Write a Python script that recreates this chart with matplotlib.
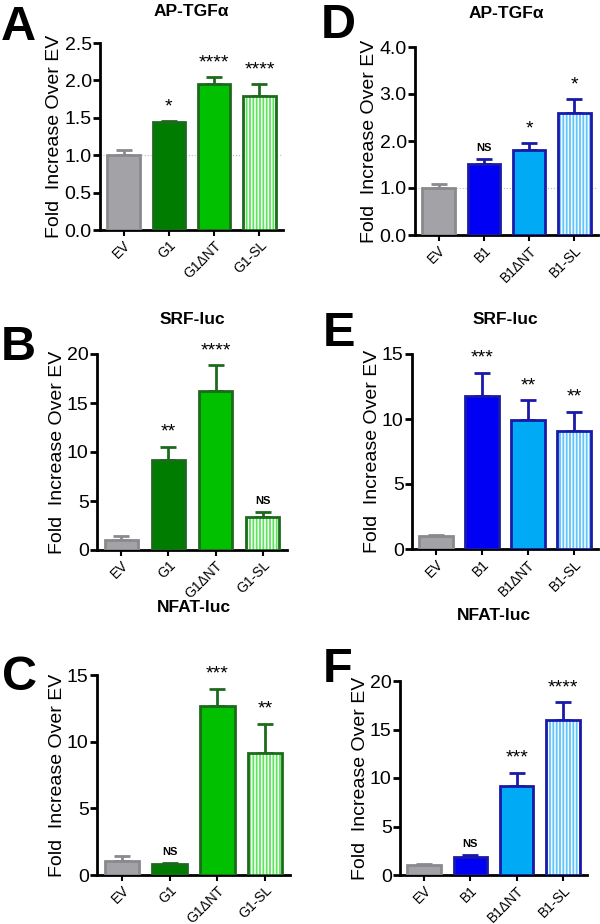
import numpy as np
import matplotlib
matplotlib.use("Agg")
from matplotlib import pyplot as plt

plt.rcParams['font.family'] = ['Liberation Sans', 'DejaVu Sans']
plt.rcParams['hatch.linewidth'] = 1.1

# dados
cats_g = ['EV', 'G1', 'G1\u0394NT', 'G1-SL']
cats_b = ['EV', 'B1', 'B1\u0394NT', 'B1-SL']

a_val = [1.00, 1.44, 1.95, 1.79]
a_err = [0.07, 0.02, 0.09, 0.16]
a_sig = ['', '*', '****', '****']

b_val = [1.0, 9.2, 16.25, 3.4]
b_err = [0.45, 1.35, 2.6, 0.45]
b_sig = ['', '**', '****', 'NS']

c_val = [1.04, 0.79, 12.65, 9.17]
c_err = [0.42, 0.08, 1.33, 2.16]
c_sig = ['', 'NS', '***', '**']

d_val = [1.01, 1.51, 1.80, 2.60]
d_err = [0.07, 0.11, 0.15, 0.29]
d_sig = ['', 'NS', '*', '*']

e_val = [1.02, 11.77, 9.9, 9.11]
e_err = [0.08, 1.8, 1.57, 1.46]
e_sig = ['', '***', '**', '**']

f_val = [1.02, 1.87, 9.2, 16.01]
f_err = [0.10, 0.21, 1.36, 1.78]
f_sig = ['', 'NS', '***', '****']

gray = ('#a3a3a7', '#8a8a8e')
greens = [gray, ('#007d00', '#1d6a1d'), ('#00c000', '#1d6a1d'), ('#5fe35f', '#1d6a1d')]
blues = [gray, ('#0000f5', '#1a1aa8'), ('#00aaf5', '#1a1aa8'), ('#5cc4ff', '#1a1aa8')]

W, H = 600, 924


def painel(rect, letter, title, cats, vals, errs, sigs, cols, ymax, yticks, fmt, dotted, title_y, letter_xy):
    l, r, t, b = rect
    ax = fig.add_axes([l / W, 1 - b / H, (r - l) / W, (b - t) / H])
    x = np.arange(len(cats))
    for i in range(len(cats)):
        fc, ec = cols[i]
        ax.errorbar(x[i], vals[i], yerr=[[0], [errs[i]]], fmt='none', ecolor=ec,
                    elinewidth=2, capsize=6, capthick=2, zorder=2)
        if i == 3:
            ax.bar(x[i], vals[i], 0.72, color=fc, edgecolor='none', zorder=3)
            ax.bar(x[i], vals[i], 0.72, color='none', edgecolor='white', hatch='|||||', linewidth=0, zorder=4)
            ax.bar(x[i], vals[i], 0.72, color='none', edgecolor=ec, linewidth=2, zorder=5)
        else:
            ax.bar(x[i], vals[i], 0.72, color=fc, edgecolor=ec, linewidth=2, zorder=3)
        if sigs[i]:
            yy = vals[i] + errs[i] + ymax * 0.03
            if sigs[i] == 'NS':
                ax.text(x[i], yy, 'NS', ha='center', va='bottom', fontsize=8, fontweight='bold')
            else:
                ax.text(x[i], yy, sigs[i], ha='center', va='bottom', fontsize=14)
    if dotted:
        ax.axhline(1.0, color='#bbbbbb', lw=0.8, ls=':', zorder=1)
    ax.set_xlim(-0.52, 3.52)
    ax.set_ylim(0, ymax)
    ax.set_yticks(yticks)
    ax.set_yticklabels([fmt.format(v) for v in yticks], fontsize=14)
    ax.set_xticks(x)
    ax.set_xticklabels(cats, rotation=45, ha='right', rotation_mode='anchor', fontsize=10)
    ax.spines['top'].set_visible(False)
    ax.spines['right'].set_visible(False)
    ax.spines['left'].set_linewidth(2)
    ax.spines['bottom'].set_linewidth(2)
    ax.tick_params(axis='y', width=2, length=5, pad=1)
    ax.tick_params(axis='x', width=1.5, length=4, pad=2)
    ax.set_ylabel('Fold  Increase Over EV', fontsize=14, labelpad=1)
    fig.text((l + r) / 2 / W, 1 - title_y / H, title, ha='center', va='center',
             fontsize=12.5, fontweight='bold')
    fig.text(letter_xy[0] / W, 1 - letter_xy[1] / H, letter, ha='left', va='center',
             fontsize=35, fontweight='bold')
    return ax


fig = plt.figure(figsize=(W / 100, H / 100), dpi=100)

painel((100, 283, 43, 230), 'A', 'AP-TGF\u03b1', cats_g, a_val, a_err, a_sig, greens,
       2.5, [0, 0.5, 1.0, 1.5, 2.0, 2.5], '{:.1f}', True, 11, (1, 27))
painel((97, 287, 354, 550), 'B', 'SRF-luc', cats_g, b_val, b_err, b_sig, greens,
       20, [0, 5, 10, 15, 20], '{:.0f}', False, 320, (1, 347))
painel((97, 290, 675, 875), 'C', 'NFAT-luc', cats_g, c_val, c_err, c_sig, greens,
       15, [0, 5, 10, 15], '{:.0f}', False, 608, (2, 677))
painel((415, 598, 47, 235), 'D', 'AP-TGF\u03b1', cats_b, d_val, d_err, d_sig, blues,
       4.0, [0, 1.0, 2.0, 3.0, 4.0], '{:.1f}', True, 13, (321, 25))
painel((412, 598, 354, 549), 'E', 'SRF-luc', cats_b, e_val, e_err, e_sig, blues,
       15, [0, 5, 10, 15], '{:.0f}', False, 320, (323, 334))
painel((400, 587, 681, 875), 'F', 'NFAT-luc', cats_b, f_val, f_err, f_sig, blues,
       20, [0, 5, 10, 15, 20], '{:.0f}', False, 615, (323, 670))

fig.savefig('out.png', dpi=100)
